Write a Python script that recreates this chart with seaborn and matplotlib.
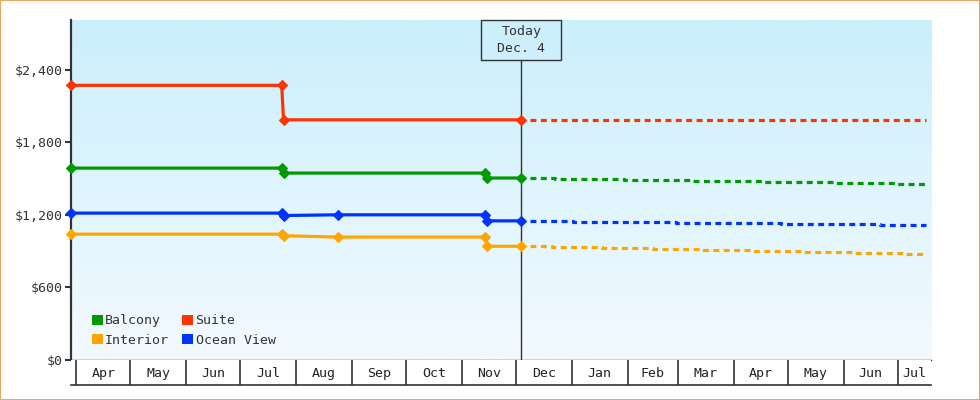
import numpy as np
import pandas as pd
import matplotlib
matplotlib.use("Agg")
import matplotlib.pyplot as plt
import matplotlib.dates as mdates
from matplotlib.patches import Rectangle, Patch
from matplotlib.colors import LinearSegmentedColormap
import seaborn as sns

# ---------------- data ----------------
x_start = "2024-03-29"
x_end = "2025-07-19 12:00"
today = "2024-12-04"
today_label = "Today\nDec. 4"

series_names = ["Balcony", "Suite", "Interior", "Ocean View"]
series_colors = ["#009900", "#FF3300", "#FFA500", "#0033FF"]

# price history (solid, with markers)
suite_hist_dates = ["2024-03-29", "2024-07-24", "2024-07-25", "2024-12-04"]
suite_hist_vals = [2270, 2270, 1985, 1985]

balcony_hist_dates = ["2024-03-29", "2024-07-24", "2024-07-25", "2024-11-14", "2024-11-15", "2024-12-04"]
balcony_hist_vals = [1586, 1586, 1545, 1545, 1504, 1504]

ocean_hist_dates = ["2024-03-29", "2024-07-24", "2024-07-25", "2024-08-24", "2024-11-14", "2024-11-15", "2024-12-04"]
ocean_hist_vals = [1214, 1214, 1194, 1200, 1200, 1150, 1150]

interior_hist_dates = ["2024-03-29", "2024-07-24", "2024-07-25", "2024-08-24", "2024-11-14", "2024-11-15", "2024-12-04"]
interior_hist_vals = [1040, 1040, 1027, 1016, 1016, 940, 940]

# forecast (dashed, stepped)
suite_fc_dates = ["2024-12-09", "2025-07-17"]
suite_fc_vals = [1985, 1985]

balcony_fc_dates = ["2024-12-09", "2024-12-23", "2025-01-30", "2025-03-09", "2025-04-17", "2025-05-26", "2025-06-30", "2025-07-17"]
balcony_fc_vals = [1504, 1496, 1487, 1479, 1471, 1463, 1454, 1454]

ocean_fc_dates = ["2024-12-09", "2025-01-02", "2025-02-28", "2025-04-27", "2025-06-21", "2025-07-17"]
ocean_fc_vals = [1148, 1140, 1131, 1123, 1115, 1115]

interior_fc_dates = ["2024-12-09", "2024-12-21", "2025-01-18", "2025-02-15", "2025-03-14", "2025-04-11",
                     "2025-05-10", "2025-06-07", "2025-07-05", "2025-07-17"]
interior_fc_vals = [941, 933, 924, 916, 908, 900, 891, 883, 875, 875]

y_ticks = [0, 600, 1200, 1800, 2400]
y_max = 2810

hist = {
    "Balcony": (balcony_hist_dates, balcony_hist_vals),
    "Suite": (suite_hist_dates, suite_hist_vals),
    "Interior": (interior_hist_dates, interior_hist_vals),
    "Ocean View": (ocean_hist_dates, ocean_hist_vals),
}
fc = {
    "Balcony": (balcony_fc_dates, balcony_fc_vals),
    "Suite": (suite_fc_dates, suite_fc_vals),
    "Interior": (interior_fc_dates, interior_fc_vals),
    "Ocean View": (ocean_fc_dates, ocean_fc_vals),
}

# ---------------- style ----------------
sns.set_theme(style="white")
FONT = "DejaVu Sans Mono"
plt.rcParams["font.family"] = [FONT, "DejaVu Sans"]
plt.rcParams["font.size"] = 9.5
TXT = "#333333"

W, H = 980, 400
fig = plt.figure(figsize=(W / 100, H / 100), dpi=100)
fig.patch.set_facecolor("white")

L, R, T, B, B2 = 71, 931, 20, 360, 385
ax = fig.add_axes([L / W, (H - B) / H, (R - L) / W, (B - T) / H])
ax2 = fig.add_axes([L / W, (H - B2) / H, (R - L) / W, (B2 - B) / H], sharex=ax)

# gradient background (darker blue at top)
grad = np.linspace(0, 1, 256).reshape(-1, 1)
cmap = LinearSegmentedColormap.from_list("bg", ["#CBEFFC", "#F3FAFF"])
ax.imshow(grad, extent=[0, 1, 0, 1], origin="upper", transform=ax.transAxes, aspect="auto",
          cmap=cmap, zorder=0, interpolation="bilinear")

xmin = mdates.date2num(pd.Timestamp(x_start))
xmax = mdates.date2num(pd.Timestamp(x_end))
tnum = mdates.date2num(pd.Timestamp(today))

for name, color in zip(series_names, series_colors):
    d, v = hist[name]
    df = pd.DataFrame({"date": mdates.date2num(pd.to_datetime(d)), "price": v})
    sns.lineplot(data=df, x="date", y="price", ax=ax, color=color, lw=2.3,
                 marker="D", markersize=4.6, markeredgewidth=0.8, markeredgecolor=color,
                 estimator=None, sort=False, zorder=4, clip_on=False)
    d, v = fc[name]
    df = pd.DataFrame({"date": mdates.date2num(pd.to_datetime(d)), "price": v})
    sns.lineplot(data=df, x="date", y="price", ax=ax, color=color, lw=2.3,
                 drawstyle="steps-post", linestyle=(0, (1.85, 1.4)),
                 estimator=None, sort=False, zorder=3)

ax.set_xlim(xmin, xmax)
ax.set_ylim(0, y_max)
ax.set_xlabel("")
ax.set_ylabel("")
ax.set_xticks([])
ax.set_yticks(y_ticks)
ax.set_yticklabels([f"${t:,}" for t in y_ticks], color=TXT, fontsize=9.5)
ax.tick_params(axis="y", length=4, width=1.5, color=TXT, pad=2, left=True)
for s in ["top", "right"]:
    ax.spines[s].set_visible(False)
ax.spines["left"].set_color(TXT)
ax.spines["left"].set_linewidth(1.6)
ax.spines["bottom"].set_color(TXT)
ax.spines["bottom"].set_linewidth(1.0)

# today line and box
box_w, box_h = 80 / (R - L), 40 / (B - T)
t_ax = (tnum - xmin) / (xmax - xmin)
ax.plot([tnum, tnum], [0, 1 - box_h], transform=ax.get_xaxis_transform(),
        color=TXT, lw=1.0, zorder=3)
ax.add_patch(Rectangle((t_ax - box_w / 2, 1 - box_h), box_w, box_h, transform=ax.transAxes,
                       facecolor="none", edgecolor=TXT, lw=1.0, zorder=5, clip_on=False))
ax.text(t_ax, 1 - box_h / 2, today_label, transform=ax.transAxes, ha="center", va="center",
        multialignment="center", color=TXT, fontsize=9.5, linespacing=1.35, zorder=6)

# legend
handles = [Patch(facecolor=c, edgecolor="none") for c in series_colors]
order = [0, 2, 1, 3]
leg = ax.legend([handles[i] for i in order], [series_names[i] for i in order], ncol=2,
                loc="lower left", bbox_to_anchor=((92 - L) / (R - L), (B - 347) / (B - T)),
                frameon=False, borderpad=0, borderaxespad=0, handlelength=0.8, handleheight=0.8,
                handletextpad=0.2, labelspacing=0.5, columnspacing=1.0, fontsize=9.5)
for t in leg.get_texts():
    t.set_color(TXT)

# month strip
ax2.set_ylim(0, 1)
ax2.set_facecolor("white")
ax2.set_xticks([])
ax2.set_yticks([])
for s in ["left", "right", "top"]:
    ax2.spines[s].set_visible(False)
ax2.spines["bottom"].set_color(TXT)
ax2.spines["bottom"].set_linewidth(1.2)
months = pd.date_range(pd.Timestamp(x_start).normalize() + pd.offsets.MonthBegin(0),
                       pd.Timestamp(x_end), freq="MS")
for m in months:
    ax2.axvline(mdates.date2num(m), color=TXT, lw=1.2)
edges = [xmin] + [mdates.date2num(m) for m in months] + [xmax]
labels_src = [pd.Timestamp(x_start)] + list(months)
for i in range(len(edges) - 1):
    a, b = edges[i], edges[i + 1]
    if (b - a) < 10:
        continue
    ax2.text((a + b) / 2, 0.47, labels_src[i].strftime("%b"), ha="center", va="center",
             color="#222222", fontsize=9.5)
ax2.set_xlim(xmin, xmax)

fig.patches.append(Rectangle((0, 0), 1, 1, transform=fig.transFigure, fill=False,
                             edgecolor="#E9A862", lw=1.5, zorder=10))

fig.savefig("out.png", dpi=100)
